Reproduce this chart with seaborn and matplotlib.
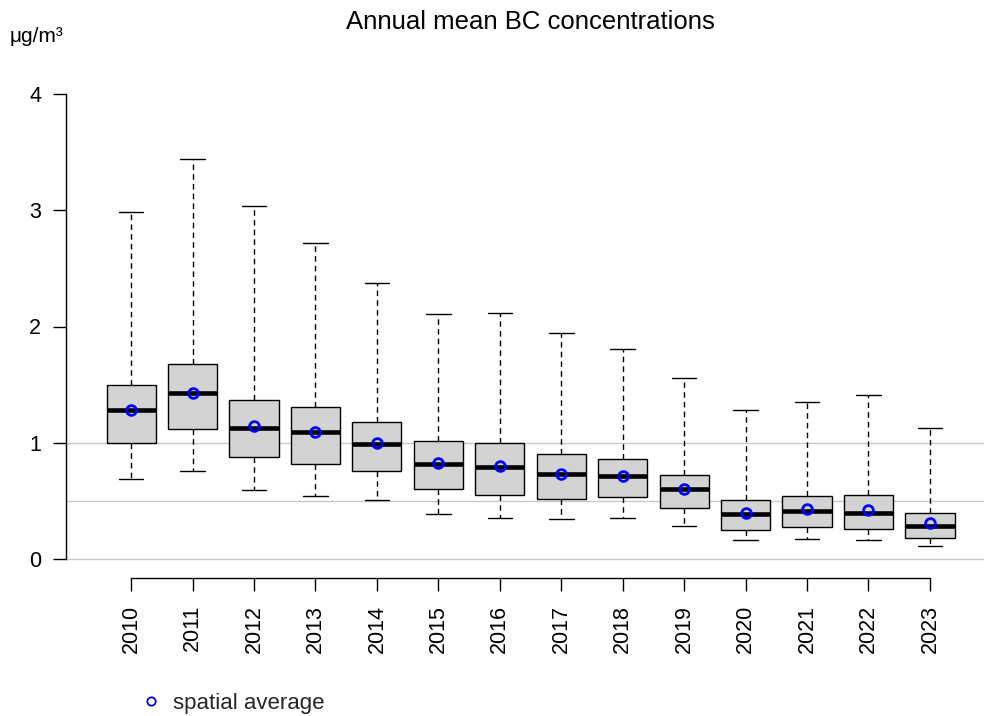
import numpy as np
import pandas as pd
import matplotlib
matplotlib.use("Agg")
import matplotlib.pyplot as plt
from matplotlib.lines import Line2D
import seaborn as sns

years = ["2010", "2011", "2012", "2013", "2014", "2015", "2016",
         "2017", "2018", "2019", "2020", "2021", "2022", "2023"]
whisker_low = [0.69, 0.76, 0.59, 0.54, 0.51, 0.39, 0.35, 0.34, 0.35, 0.28, 0.16, 0.17, 0.16, 0.11]
q1 =          [0.995, 1.12, 0.88, 0.82, 0.76, 0.60, 0.55, 0.52, 0.53, 0.44, 0.25, 0.275, 0.26, 0.18]
median =      [1.28, 1.43, 1.13, 1.09, 0.985, 0.815, 0.79, 0.735, 0.71, 0.60, 0.385, 0.415, 0.40, 0.287]
q3 =          [1.50, 1.68, 1.37, 1.31, 1.18, 1.015, 1.00, 0.90, 0.86, 0.72, 0.505, 0.545, 0.55, 0.40]
whisker_high = [2.985, 3.445, 3.04, 2.715, 2.37, 2.11, 2.12, 1.945, 1.81, 1.56, 1.28, 1.35, 1.41, 1.125]
spatial_mean = [1.28, 1.43, 1.147, 1.09, 0.995, 0.823, 0.798, 0.734, 0.713, 0.598, 0.396, 0.43, 0.421, 0.31]
yticks = [0, 1, 2, 3, 4]
grid_levels = [0, 0.5, 1]

# five-number summaries -> long table (quantiles of 5 points reproduce them exactly)
rows = []
for i, yr in enumerate(years):
    for v in (whisker_low[i], q1[i], median[i], q3[i], whisker_high[i]):
        rows.append({"year": yr, "value": v})
df = pd.DataFrame(rows)
means_df = pd.DataFrame({"year": years, "mean": spatial_mean})

sns.set_theme(style="white")
plt.rcParams["font.family"] = ["Liberation Sans", "DejaVu Sans"]

fig = plt.figure(figsize=(9.84, 7.16), dpi=100)
ax = fig.add_axes([66 / 984, 1 - 577.6 / 716, 1 - 66 / 984, (577.6 - 75.4) / 716])

for g in grid_levels:
    ax.axhline(g, color="#c8c8c8", lw=1.0, zorder=0)

sns.boxplot(data=df, x="year", y="value", order=years, whis=np.inf, width=0.8,
            color="#d3d3d3", linecolor="black", linewidth=1.0, saturation=1,
            boxprops=dict(facecolor="#d3d3d3", edgecolor="black", linewidth=1.0),
            medianprops=dict(color="black", linewidth=3.3),
            whiskerprops=dict(color="black", linewidth=1.0, linestyle=(0, (4, 3))),
            capprops=dict(color="black", linewidth=1.0),
            showfliers=False, ax=ax, zorder=2)

sns.pointplot(data=means_df, x="year", y="mean", order=years, linestyle="none",
              marker="o", color="blue", markerfacecolor="none", markeredgecolor="blue",
              markersize=7, markeredgewidth=2, errorbar=None, ax=ax, zorder=5)

ax.set_xlim(-1.06, 13.88)
ax.set_ylim(-0.16, 4.16)
ax.set_xlabel("")
ax.set_ylabel("")
ax.set_yticks(yticks)
ax.set_yticklabels([str(t) for t in yticks])
ax.set_xticks(range(len(years)))
ax.set_xticklabels(years, rotation=90)

for s in ["top", "right"]:
    ax.spines[s].set_visible(False)
ax.spines["left"].set_bounds(0, 4)
ax.spines["bottom"].set_bounds(0, len(years) - 1)
for s in ["left", "bottom"]:
    ax.spines[s].set_color("black")
    ax.spines[s].set_linewidth(1.0)
ax.tick_params(axis="both", which="major", direction="out", length=9.5, width=1.0,
               color="black", labelsize=15.5, labelcolor="black", left=True, bottom=True)
ax.tick_params(axis="y", pad=8.5)
ax.tick_params(axis="x", pad=10)
ax.grid(False)

fig.suptitle("Annual mean BC concentrations", x=530 / 984, y=1 - 22 / 716, va="center",
             fontsize=18.5, color="black")
fig.text(10 / 984, 1 - 37 / 716, "μg/m³", ha="left", va="center", fontsize=15, color="black")

handle = Line2D([], [], linestyle="none", marker="o", markerfacecolor="none",
                markeredgecolor="blue", markersize=6, markeredgewidth=1.3)
fig.legend(handles=[handle], labels=["spatial average"], loc="center left",
           bbox_to_anchor=(140 / 984, 1 - 703 / 716), frameon=False, fontsize=16,
           handlelength=1.0, handletextpad=0.5, borderaxespad=0, borderpad=0)

fig.savefig("out.png", dpi=100)
